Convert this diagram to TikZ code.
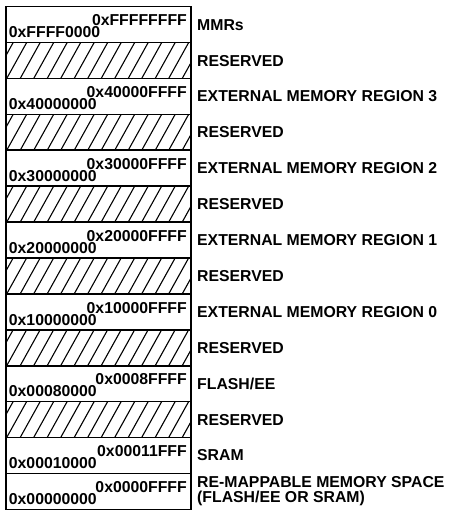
\documentclass[tikz,border=0pt]{standalone}
\usepackage{fontspec}
\setmainfont{Liberation Sans}
\usepackage{tikz}
\usetikzlibrary{positioning}

\begin{document}
\begin{tikzpicture}[
    node distance=0pt and 3pt,
    every node/.style={font=\bfseries\fontsize{15.8}{15.8}\selectfont},
    region/.style={draw, line width=1.6pt, minimum width=185.3pt,
                   minimum height=35.9pt, inner sep=0pt, outer sep=0pt},
    hatch/.style={region, path picture={
        \foreach \k in {-2,...,14}
          \draw[line width=1.1pt] ([xshift=1pt+\k*13.5pt]path picture bounding box.south west) -- ++(20pt,36pt);}},
    hi/.style={anchor=north east, inner xsep=4pt, inner ysep=0pt,
               text height=11pt, text depth=0pt, yshift=-8pt},
    lo/.style={anchor=south west, inner xsep=3pt, inner ysep=0pt,
               text height=11pt, text depth=0pt, yshift=4.5pt},
    lbl/.style={inner xsep=2pt, inner ysep=0pt, text height=11pt,
                text depth=0pt, align=left, xshift=1pt}
]
\useasboundingbox (0,0) rectangle (451pt,-513pt);

\node[region] (mmr) at (98.35pt,-24.65pt) {};
\node[hatch, below=of mmr] (rsv6) {};
\node[region, below=of rsv6] (ext3) {};
\node[hatch, below=of ext3] (rsv5) {};
\node[region, below=of rsv5] (ext2) {};
\node[hatch, below=of ext2] (rsv4) {};
\node[region, below=of rsv4] (ext1) {};
\node[hatch, below=of ext1] (rsv3) {};
\node[region, below=of rsv3] (ext0) {};
\node[hatch, below=of ext0] (rsv2) {};
\node[region, below=of rsv2] (flash) {};
\node[hatch, below=of flash] (rsv1) {};
\node[region, below=of rsv1] (sram) {};
\node[region, below=of sram] (remap) {};

% addresses
\node[hi] (ammr) at (mmr.north east) {0xFFFFFFFF};
\node[lo] (bmmr) at (mmr.south west) {0xFFFF0000};
\node[hi] (aext3) at (ext3.north east) {0x40000FFFF};
\node[lo] (bext3) at (ext3.south west) {0x40000000};
\node[hi] (aext2) at (ext2.north east) {0x30000FFFF};
\node[lo] (bext2) at (ext2.south west) {0x30000000};
\node[hi] (aext1) at (ext1.north east) {0x20000FFFF};
\node[lo] (bext1) at (ext1.south west) {0x20000000};
\node[hi] (aext0) at (ext0.north east) {0x10000FFFF};
\node[lo] (bext0) at (ext0.south west) {0x10000000};
\node[hi] (aflash) at (flash.north east) {0x0008FFFF};
\node[lo] (bflash) at (flash.south west) {0x00080000};
\node[hi] (asram) at (sram.north east) {0x00011FFF};
\node[lo] (bsram) at (sram.south west) {0x00010000};
\node[hi] (aremap) at (remap.north east) {0x0000FFFF};
\node[lo] (bremap) at (remap.south west) {0x00000000};

% region names
\node[lbl, right=of mmr] (lmmr) {MMRs};
\node[lbl, right=of rsv6] (lrsv6) {RESERVED};
\node[lbl, right=of ext3] (lext3) {EXTERNAL MEMORY REGION 3};
\node[lbl, right=of rsv5] (lrsv5) {RESERVED};
\node[lbl, right=of ext2] (lext2) {EXTERNAL MEMORY REGION 2};
\node[lbl, right=of rsv4] (lrsv4) {RESERVED};
\node[lbl, right=of ext1] (lext1) {EXTERNAL MEMORY REGION 1};
\node[lbl, right=of rsv3] (lrsv3) {RESERVED};
\node[lbl, right=of ext0] (lext0) {EXTERNAL MEMORY REGION 0};
\node[lbl, right=of rsv2] (lrsv2) {RESERVED};
\node[lbl, right=of flash] (lflash) {FLASH/EE};
\node[lbl, right=of rsv1] (lrsv1) {RESERVED};
\node[lbl, right=of sram] (lsram) {SRAM};
\node[lbl, right=of remap, yshift=-6pt] (lremap) {RE-MAPPABLE MEMORY SPACE\\(FLASH/EE OR SRAM)};
\end{tikzpicture}
\end{document}
